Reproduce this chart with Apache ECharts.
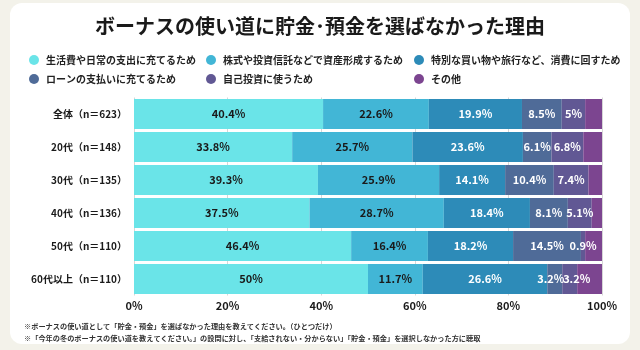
<!DOCTYPE html>
<html>
<head>
<meta charset="utf-8">
<script src="https://cdn.jsdelivr.net/npm/echarts@6/dist/echarts.min.js"></script>
<style>
	html, body { margin: 0; padding: 0; background: #f3f2ea; }
	#chart { width: 640px; height: 350px; }
</style>
</head>
<body>
<div id="chart"></div>
<script>
const categories = ['全体（n＝623）', '20代（n＝148）', '30代（n＝135）', '40代（n＝136）', '50代（n＝110）', '60代以上（n＝110）'];
const seriesNames = ['生活費や日常の支出に充てるため', '株式や投資信託などで資産形成するため', '特別な買い物や旅行など、消費に回すため', 'ローンの支払いに充てるため', '自己投資に使うため', 'その他'];
const livingCost = [40.4, 33.8, 39.3, 37.5, 46.4, 50];
const investment = [22.6, 25.7, 25.9, 28.7, 16.4, 11.7];
const special = [19.9, 23.6, 14.1, 18.4, 18.2, 26.6];
const loan = [8.5, 6.1, 10.4, 8.1, 14.5, 3.2];
const selfInvest = [5, 6.8, 7.4, 5.1, 0.9, 3.2];
const other = [3.6, 4.0, 2.9, 2.2, 3.6, 5.3];
const xTicks = ['0%', '20%', '40%', '60%', '80%', '100%'];

const colors = ['#6ae4e8', '#42b6d6', '#2d8bb8', '#4f6b98', '#615894', '#7c4590'];
const labelColors = ['#1a1a1a', '#1a1a1a', '#ffffff', '#ffffff', '#ffffff', null];
// 細いセグメントのラベルが重ならないよう左右にずらす
const labelShift = { 3: [0, 0, 0, 0, 0, -4], 4: [0, 0, 0, 0, 0, 7] };
const font = '"Noto Sans CJK JP", "Noto Sans", sans-serif';

const chart = echarts.init(document.getElementById('chart'));

const dataList = [livingCost, investment, special, loan, selfInvest, other];
const series = dataList.map((data, i) => ({
	name: seriesNames[i],
	type: 'bar',
	stack: 'total',
	barWidth: 30,
	data: data.map((v, j) => {
		const shift = labelShift[i] ? labelShift[i][j] : 0;
		return shift ? { value: v, label: { offset: [shift, 0] } } : v;
	}),
	itemStyle: { color: colors[i] },
	label: {
		show: labelColors[i] !== null,
		position: 'inside',
		color: labelColors[i] || '#fff',
		fontFamily: font,
		fontSize: 11,
		fontWeight: 'bold',
		formatter: p => `${p.value}%`
	}
}));

const legendCommon = {
	orient: 'vertical',
	top: 50,
	itemGap: 9,
	icon: 'circle',
	itemWidth: 10,
	itemHeight: 10,
	textStyle: { fontFamily: font, fontSize: 10, fontWeight: 'bold', color: '#222', padding: [0, 0, 0, 2] },
	selectedMode: false
};

chart.setOption({
	backgroundColor: '#f3f2ea',
	textStyle: { fontFamily: font },
	graphic: [
		{
			type: 'rect',
			z: -10,
			shape: { x: 10, y: 3, width: 620, height: 341, r: 12 },
			style: { fill: '#ffffff' }
		},
		{
			type: 'text',
			left: 24,
			top: 320,
			style: {
				text: '※ボーナスの使い道として「貯金・預金」を選ばなかった理由を教えてください。（ひとつだけ）\n※「今年の冬のボーナスの使い道を教えてください。」の設問に対し、「支給されない・分からない」「貯金・預金」を選択しなかった方に聴取',
				font: 'bold 7.2px "Noto Sans CJK JP", sans-serif',
				lineHeight: 12,
				fill: '#333'
			}
		}
	],
	title: {
		text: 'ボーナスの使い道に貯金･預金を選ばなかった理由',
		left: 'center',
		top: 11,
		textStyle: { fontFamily: font, fontSize: 20, fontWeight: 'bold', color: '#1a1a1a' }
	},
	legend: [
		Object.assign({ left: 24, data: [seriesNames[0], seriesNames[3]] }, legendCommon),
		Object.assign({ left: 201, data: [seriesNames[1], seriesNames[4]] }, legendCommon),
		Object.assign({ left: 409, data: [seriesNames[2], seriesNames[5]] }, legendCommon)
	],
	grid: {
		left: 134,
		right: 38,
		top: 97.5,
		bottom: 54.5
	},
	xAxis: {
		type: 'value',
		min: 0,
		max: 100,
		interval: 20,
		axisLine: { show: false },
		axisTick: { show: false },
		splitLine: { show: true, lineStyle: { color: '#d6d6d6', width: 1 } },
		axisLabel: {
			color: '#1a1a1a',
			fontSize: 11,
			fontWeight: 'bold',
			margin: 5,
			formatter: v => xTicks[v / 20]
		}
	},
	yAxis: {
		type: 'category',
		inverse: true,
		data: categories,
		axisLine: { show: false },
		axisTick: { show: false },
		axisLabel: {
			color: '#1a1a1a',
			fontSize: 10,
			fontWeight: 'bold',
			margin: 7
		}
	},
	series: series
});
</script>
</body>
</html>
